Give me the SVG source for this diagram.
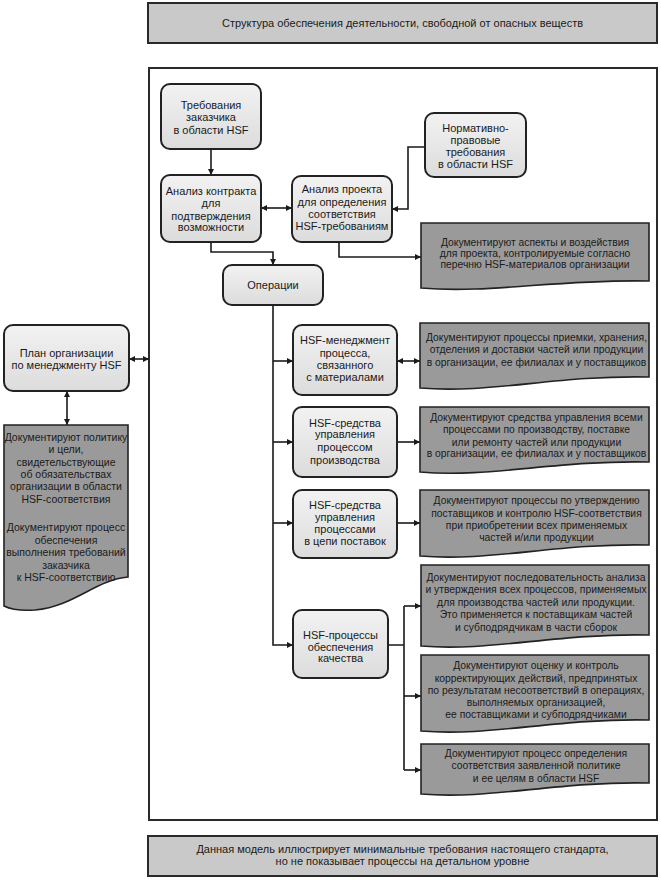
<svg xmlns="http://www.w3.org/2000/svg" width="661" height="880" viewBox="0 0 661 880">
<defs>
<linearGradient id="ng" x1="0" y1="0" x2="0" y2="1">
<stop offset="0" stop-color="#f2f2f2"/>
<stop offset="1" stop-color="#dcdcdc"/>
</linearGradient>
<marker id="ah" viewBox="0 0 10 10" refX="10" refY="5" markerWidth="7" markerHeight="6" markerUnits="userSpaceOnUse" orient="auto-start-reverse">
<path d="M0,0 L10,5 L0,10 Z" fill="#1a1a1a"/>
</marker>
<style>
text{font-family:"Liberation Sans",Arial,sans-serif;font-size:11px;fill:#1a1a1a;text-anchor:middle}
.dt text{font-size:10.35px}
.lt text{font-size:10.5px}
.band{fill:#c9c9c9;stroke:#2a2a2a;stroke-width:2}
.frame{fill:#ffffff;stroke:#2a2a2a;stroke-width:2}
.node{fill:url(#ng);stroke:#222;stroke-width:2}
.doc{fill:#9a9a9a;stroke:#222;stroke-width:1.6}
.c{fill:none;stroke:#1a1a1a;stroke-width:1.6}
.a{marker-end:url(#ah)}
.b{marker-start:url(#ah);marker-end:url(#ah)}
</style>
</defs>

<g id="title">
<rect class="band" x="148" y="3" width="509" height="40"/>
<text x="402.5" y="27">Структура обеспечения деятельности, свободной от опасных веществ</text>
</g>

<rect id="frame" class="frame" x="149" y="68" width="508" height="752"/>

<g id="footer">
<rect class="band" x="148" y="836" width="509" height="40"/>
<text x="402.5" y="853">Данная модель иллюстрирует минимальные требования настоящего стандарта,</text>
<text x="402.5" y="865">но не показывает процессы на детальном уровне</text>
</g>

<g id="connectors">
<path class="c a" d="M211,149 V175"/>
<path class="c b" d="M261,208 H292"/>
<path class="c a" d="M425,147 H408 V209 H392"/>
<path class="c a" d="M211,242 V252 H273 V265"/>
<path class="c a" d="M339,242 V257 H421"/>
<path class="c a" d="M273,305 V645 H293"/>
<path class="c a" d="M273,361 H293"/>
<path class="c a" d="M273,442 H293"/>
<path class="c a" d="M273,523 H293"/>
<path class="c b" d="M397,361 H420"/>
<path class="c a" d="M397,442 H420"/>
<path class="c a" d="M397,523 H420"/>
<path class="c" d="M388,645 H404 M404,606 V770"/>
<path class="c a" d="M404,606 H421"/>
<path class="c a" d="M404,696 H421"/>
<path class="c a" d="M404,770 H421"/>
<path class="c b" d="M129,359 H149"/>
<path class="c b" d="M67,391 V425"/>
</g>

<g id="customer-req">
<rect class="node" x="161" y="84" width="100" height="65" rx="9"/>
<text x="211" y="109">Требования</text>
<text x="211" y="121">заказчика</text>
<text x="211" y="134">в области HSF</text>
</g>

<g id="contract-review">
<rect class="node" x="161" y="175" width="100" height="67" rx="9"/>
<text x="211" y="195">Анализ контракта</text>
<text x="211" y="207">для</text>
<text x="211" y="219.5">подтверждения</text>
<text x="211" y="231">возможности</text>
</g>

<g id="design-review">
<rect class="node" x="292" y="176" width="100" height="66" rx="9"/>
<text x="342" y="193">Анализ проекта</text>
<text x="342" y="205.5">для определения</text>
<text x="342" y="218">соответствия</text>
<text x="342" y="229.5">HSF-требованиям</text>
</g>

<g id="legal-req">
<rect class="node" x="425" y="113" width="101" height="64" rx="9"/>
<text x="475.5" y="132">Нормативно-</text>
<text x="475.5" y="144">правовые</text>
<text x="475.5" y="156">требования</text>
<text x="475.5" y="167.5">в области HSF</text>
</g>

<g id="doc-design" class="dt">
<path class="doc" d="M421,223 H649 V281 C557,279 489,294 421,288 Z"/>
<text x="535" y="245.5">Документируют аспекты и воздействия</text>
<text x="535" y="256.5">для проекта, контролируемые согласно</text>
<text x="535" y="267.5">перечню HSF-материалов организации</text>
</g>

<g id="operations">
<rect class="node" x="223" y="265" width="100" height="40" rx="9"/>
<text x="273" y="289">Операции</text>
</g>

<g id="hsf-plan">
<rect class="node" x="4" y="325" width="125" height="66" rx="9"/>
<text x="66.5" y="357">План организации</text>
<text x="66.5" y="368.5">по менеджменту HSF</text>
</g>

<g id="doc-plan" class="lt">
<path class="doc" d="M4,425 H128 V577 C95,580 75,606 35,610 C20,611 10,609 4,606 Z"/>
<text x="66" y="440.5">Документируют политику</text>
<text x="66" y="453">и цели,</text>
<text x="66" y="465.5">свидетельствующие</text>
<text x="66" y="478">об обязательствах</text>
<text x="66" y="490">организации в области</text>
<text x="66" y="502.5">HSF-соответствия</text>
<text x="66" y="531">Документируют процесс</text>
<text x="66" y="543.5">обеспечения</text>
<text x="66" y="556">выполнения требований</text>
<text x="66" y="568.5">заказчика</text>
<text x="66" y="581">к HSF-соответствию</text>
</g>

<g id="hsf-material">
<rect class="node" x="293" y="325" width="104" height="70" rx="9"/>
<text x="345" y="344">HSF-менеджмент</text>
<text x="345" y="357">процесса,</text>
<text x="345" y="369">связанного</text>
<text x="345" y="380.5">с материалами</text>
</g>

<g id="doc-material" class="dt">
<path class="doc" d="M420,323 H649 V377 C557,375 489,394 420,388 Z"/>
<text x="536.5" y="340.5">Документируют процессы приемки, хранения,</text>
<text x="536.5" y="353">отделения и доставки частей или продукции</text>
<text x="536.5" y="365.5">в организации, ее филиалах и у поставщиков</text>
</g>

<g id="hsf-production">
<rect class="node" x="293" y="407" width="104" height="70" rx="9"/>
<text x="345" y="426.5">HSF-средства</text>
<text x="345" y="438">управления</text>
<text x="345" y="450.5">процессом</text>
<text x="345" y="464">производства</text>
</g>

<g id="doc-production" class="dt">
<path class="doc" d="M420,407 H649 V462 C557,460 489,478 420,472 Z"/>
<text x="536.5" y="420.5">Документируют средства управления всеми</text>
<text x="536.5" y="433">процессами по производству, поставке</text>
<text x="536.5" y="445.5">или ремонту частей или продукции</text>
<text x="536.5" y="457">в организации, ее филиалах и у поставщиков</text>
</g>

<g id="hsf-supply">
<rect class="node" x="293" y="490" width="104" height="68" rx="9"/>
<text x="345" y="509">HSF-средства</text>
<text x="345" y="520.5">управления</text>
<text x="345" y="533">процессами</text>
<text x="345" y="544.5">в цепи поставок</text>
</g>

<g id="doc-supply" class="dt">
<path class="doc" d="M420,490 H649 V545 C557,543 489,562 420,556 Z"/>
<text x="536.5" y="504">Документируют процессы по утверждению</text>
<text x="536.5" y="516.5">поставщиков и контролю HSF-соответствия</text>
<text x="536.5" y="529">при приобретении всех применяемых</text>
<text x="536.5" y="540.5">частей и/или продукции</text>
</g>

<g id="hsf-quality">
<rect class="node" x="293" y="610" width="95" height="68" rx="9"/>
<text x="340.5" y="639">HSF-процессы</text>
<text x="340.5" y="650.5">обеспечения</text>
<text x="340.5" y="662">качества</text>
</g>

<g id="doc-qa-approval" class="dt">
<path class="doc" d="M421,565 H649 V635 C557,633 489,652 421,646 Z"/>
<text x="536" y="580.5">Документируют последовательность анализа</text>
<text x="536" y="593">и утверждения всех процессов, применяемых</text>
<text x="536" y="605.5">для производства частей или продукции.</text>
<text x="536" y="618">Это применяется к поставщикам частей</text>
<text x="536" y="631">и субподрядчикам в части сборок</text>
</g>

<g id="doc-qa-corrective" class="dt">
<path class="doc" d="M421,655 H649 V720 C557,718 489,737 421,731 Z"/>
<text x="536" y="669">Документируют оценку и контроль</text>
<text x="536" y="681.5">корректирующих действий, предпринятых</text>
<text x="536" y="694">по результатам несоответствий в операциях,</text>
<text x="536" y="706">выполняемых организацией,</text>
<text x="536" y="718">ее поставщиками и субподрядчиками</text>
</g>

<g id="doc-qa-policy" class="dt">
<path class="doc" d="M421,744 H649 V783 C557,781 489,800 421,794 Z"/>
<text x="536" y="757">Документируют процесс определения</text>
<text x="536" y="769">соответствия заявленной политике</text>
<text x="536" y="782">и ее целям в области HSF</text>
</g>
</svg>
